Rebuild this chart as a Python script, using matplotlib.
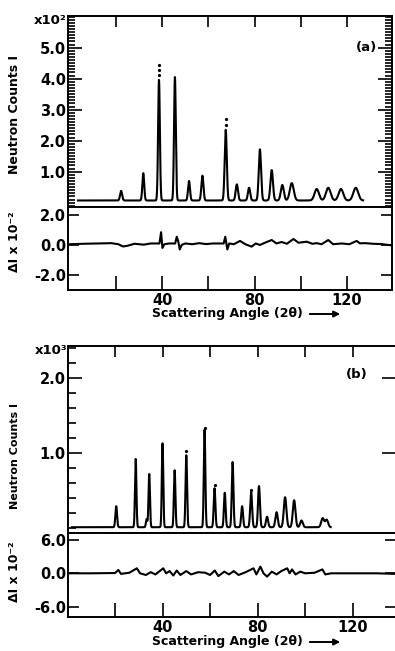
import numpy as np
import matplotlib
matplotlib.use("Agg")
import matplotlib.pyplot as plt
from matplotlib.ticker import MultipleLocator, FixedLocator

plt.rcParams['font.family'] = ['DejaVu Sans']
plt.rcParams['font.weight'] = 'bold'
plt.rcParams['axes.unicode_minus'] = False

# ---------------- data: panel (a) ----------------
peak_pos_a = [22.2, 31.8, 38.6, 45.5, 51.6, 57.4, 67.5, 72.3, 77.6, 82.3, 87.4,
              92.0, 96.1, 106.9, 111.9, 117.4, 123.8]
peak_h_a = [0.38, 0.95, 3.96, 4.05, 0.70, 0.87, 2.35, 0.59, 0.48, 1.72, 1.05,
            0.57, 0.63, 0.44, 0.48, 0.44, 0.48]
peak_w_a = [0.45, 0.40, 0.38, 0.38, 0.42, 0.45, 0.45, 0.5, 0.5, 0.5, 0.55,
            0.65, 0.85, 0.95, 1.0, 1.0, 1.05]
background_a = 0.07
range_a = (3.5, 127.0)
dots_a_x = [38.6, 38.6, 38.6, 67.5, 67.5]
dots_a_y = [4.12, 4.28, 4.44, 2.50, 2.69]
resid_a_x = [0, 6, 12, 18, 21, 23, 25, 28, 32, 35, 38.8, 39.5, 40.1, 40.9, 43,
             45.6, 46.3, 47.0, 47.6, 48.4, 50, 53, 56, 59, 62, 66.6, 67.3, 68.2,
             69.0, 71, 73.7, 76, 78.7, 80.5, 82.3, 84.5, 87.4, 89.5, 91.7, 94,
             96.8, 99, 102.6, 105, 106.9, 109, 111.9, 114, 117.7, 121, 124.2,
             125.6, 128, 131.3, 135, 140]
resid_a_y = [0.05, 0.08, 0.1, 0.12, 0.05, -0.1, -0.05, 0.08, 0.02, 0.1, 0.1,
             0.85, -0.2, 0.05, 0.1, 0.1, 0.55, 0.2, -0.3, 0.0, 0.1, 0.05, 0.12,
             0.06, 0.1, 0.1, 0.55, -0.3, 0.1, 0.05, 0.27, 0.05, -0.11, 0.1, 0.0,
             0.15, 0.33, 0.1, 0.2, 0.08, 0.4, 0.15, 0.22, 0.08, 0.12, 0.05, 0.33,
             0.05, 0.1, 0.05, 0.27, 0.11, 0.12, 0.08, 0.06, -0.04]

# ---------------- data: panel (b) ----------------
peak_pos_b = [20.5, 28.7, 33.3, 34.4, 40.0, 45.1, 50.0, 57.7, 61.9, 66.2, 69.5,
              73.5, 77.3, 80.6, 84.0, 88.0, 91.6, 95.4, 98.5, 107.4, 109.1]
peak_h_b = [0.29, 0.92, 0.12, 0.72, 1.13, 0.77, 0.97, 1.31, 0.53, 0.47, 0.88,
            0.29, 0.48, 0.56, 0.15, 0.21, 0.41, 0.37, 0.10, 0.13, 0.11]
peak_w_b = [0.35, 0.3, 0.3, 0.3, 0.3, 0.32, 0.32, 0.32, 0.35, 0.35, 0.35,
            0.38, 0.4, 0.4, 0.45, 0.5, 0.55, 0.55, 0.55, 0.6, 0.6]
background_b = 0.01
range_b = (1.8, 110.8)
dots_b_x = [50.0, 57.7, 61.9, 77.3]
dots_b_y = [1.03, 1.33, 0.57, 0.51]
resid_b_x = [0.5, 10, 20, 21.4, 22.5, 26, 29.2, 30.5, 33, 35, 37, 40.3, 41.5, 43,
             44.5, 46, 47.5, 50, 52, 55, 58, 60, 62, 63.5, 66, 68, 70, 72, 75,
             78.3, 79.5, 81.2, 82.5, 84, 86, 88, 90, 92.5, 93.5, 94.5, 96, 98,
             100, 104, 107.3, 108.5, 111, 120, 130, 138]
resid_b_y = [0.0, 0.0, 0.05, 0.6, -0.1, 0.1, 0.9, 0.0, -0.3, 0.2, -0.2, 0.9, 0.0,
             0.4, -0.4, 0.5, -0.3, 0.4, -0.2, 0.2, 0.1, -0.3, 0.5, -0.5, 0.3,
             -0.2, 0.4, -0.3, 0.2, 0.9, -0.2, 1.2, 0.0, -0.6, 0.3, -0.2, 0.4,
             0.9, 0.0, 0.7, -0.2, 0.3, 0.0, 0.1, 0.7, -0.2, 0.0, 0.0, 0.0, -0.1]

x_ticks = [20, 40, 60, 80, 100, 120]
x_ticklabels = ["", "40", "", "80", "", "120"]


def profile(lo, hi, pos, h, w, bg):
    x = np.linspace(lo, hi, 4000)
    y = np.full_like(x, bg)
    for p, hh, ww in zip(pos, h, w):
        y += (hh - bg) * np.exp(-0.5 * ((x - p) / ww) ** 2)
    return x, y


W, H = 395, 651
fig = plt.figure(figsize=(W / 100, H / 100), dpi=100)
L = 68 / W


def frac(top_px, bot_px):
    return 1 - bot_px / H, (bot_px - top_px) / H


LW = 1.5
SP = 1.4
FS = 10.5


def style(ax, right_visible=True):
    for s in ax.spines.values():
        s.set_linewidth(SP)
    ax.spines['right'].set_visible(right_visible)
    ax.tick_params(which='both', direction='in', width=1.2, labelsize=FS, pad=1.5)


# ---- panel (a) main
b, h = frac(16, 207)
axA = fig.add_axes([L, b, 392 / W - L, h])
x, y = profile(*range_a, peak_pos_a, peak_h_a, peak_w_a, background_a)
axA.plot(x, y, color='black', lw=LW)
axA.plot(dots_a_x, dots_a_y, ls='none', marker='o', ms=1.3, color='black')
axA.set_xlim(-0.8, 139.5)
axA.set_ylim(-0.14, 6.02)
style(axA)
axA.yaxis.set_major_locator(FixedLocator([1, 2, 3, 4, 5]))
axA.yaxis.set_minor_locator(MultipleLocator(0.1))
axA.set_yticklabels(["1.0", "2.0", "3.0", "4.0", "5.0"])
axA.xaxis.set_major_locator(FixedLocator(x_ticks))
axA.tick_params(axis='x', which='both', bottom=False, top=True, labelbottom=False, length=8)
axA.tick_params(axis='y', which='major', left=True, right=True, length=10)
axA.tick_params(axis='y', which='minor', left=True, right=True, length=5)
axA.text(0.92, 0.835, "(a)", transform=axA.transAxes, fontsize=9.5, ha='center', va='center')
fig.text(67 / W, 1 - 14 / H, "x10²", fontsize=9.5, ha='right', va='top')

# ---- panel (a) residual
b, h = frac(207, 290)
axAr = fig.add_axes([L, b, 392 / W - L, h])
axAr.plot(resid_a_x, resid_a_y, color='black', lw=LW)
axAr.set_xlim(-0.8, 139.5)
axAr.set_ylim(-3.0, 2.53)
style(axAr)
axAr.yaxis.set_major_locator(FixedLocator([-2, 0, 2]))
axAr.set_yticklabels(["-2.0", "0.0", "2.0"])
axAr.tick_params(axis='y', which='major', left=True, right=True, length=8)
axAr.xaxis.set_major_locator(FixedLocator(x_ticks))
axAr.set_xticklabels(x_ticklabels)
axAr.tick_params(axis='x', which='major', bottom=True, top=False, length=10, pad=2)

# ---- panel (b) main
b, h = frac(346, 533)
axB = fig.add_axes([L, b, 1.0 - L + 0.002, h])
x, y = profile(*range_b, peak_pos_b, peak_h_b, peak_w_b, background_b)
axB.plot(x, y, color='black', lw=LW)
axB.plot(dots_b_x, dots_b_y, ls='none', marker='o', ms=1.3, color='black')
axB.set_xlim(0.2, 138.2)
axB.set_ylim(-0.067, 2.427)
style(axB, right_visible=False)
axB.yaxis.set_major_locator(FixedLocator([1, 2]))
axB.yaxis.set_minor_locator(MultipleLocator(0.2))
axB.set_yticklabels(["1.0", "2.0"])
axB.xaxis.set_major_locator(FixedLocator(x_ticks))
axB.tick_params(axis='x', which='both', bottom=False, top=True, labelbottom=False, length=8)
axB.tick_params(axis='y', which='major', left=True, right=True, length=10)
axB.tick_params(axis='y', which='minor', left=True, right=False, length=6)
axB.text(357 / W, 1 - 375 / H, "(b)", transform=fig.transFigure, fontsize=9.5,
         ha='center', va='center')
fig.text(67 / W, 1 - 344 / H, "x10³", fontsize=9.5, ha='right', va='top')

# ---- panel (b) residual
b, h = frac(533, 617)
axBr = fig.add_axes([L, b, 1.0 - L + 0.002, h])
axBr.plot(resid_b_x, resid_b_y, color='black', lw=LW)
axBr.set_xlim(0.2, 138.2)
axBr.set_ylim(-7.86, 7.25)
style(axBr, right_visible=False)
axBr.yaxis.set_major_locator(FixedLocator([-6, 0, 6]))
axBr.set_yticklabels(["-6.0", "0.0", "6.0"])
axBr.tick_params(axis='y', which='major', left=True, right=True, length=8)
axBr.xaxis.set_major_locator(FixedLocator(x_ticks))
axBr.set_xticklabels(x_ticklabels)
axBr.tick_params(axis='x', which='major', bottom=True, top=False, length=10, pad=2)

# ---- axis labels
fig.text(15 / W, 1 - 114 / H, "Neutron Counts I", rotation=90, fontsize=9,
         ha='center', va='center')
fig.text(15 / W, 1 - 242 / H, "ΔI x 10⁻²", rotation=90, fontsize=9,
         ha='center', va='center')
fig.text(15 / W, 1 - 456 / H, "Neutron Counts I", rotation=90, fontsize=8,
         ha='center', va='center')
fig.text(15 / W, 1 - 572 / H, "ΔI x 10⁻²", rotation=90, fontsize=9,
         ha='center', va='center')

for yc in (314, 642):
    fig.text(152 / W, 1 - yc / H, "Scattering Angle (2θ)", fontsize=9,
             ha='left', va='center')
    fig.add_artist(matplotlib.patches.FancyArrowPatch(
        (307 / W, 1 - yc / H), (343 / W, 1 - yc / H), transform=fig.transFigure,
        arrowstyle='-|>', mutation_scale=9, lw=1.4, color='black'))

fig.savefig("out.png", dpi=100)
